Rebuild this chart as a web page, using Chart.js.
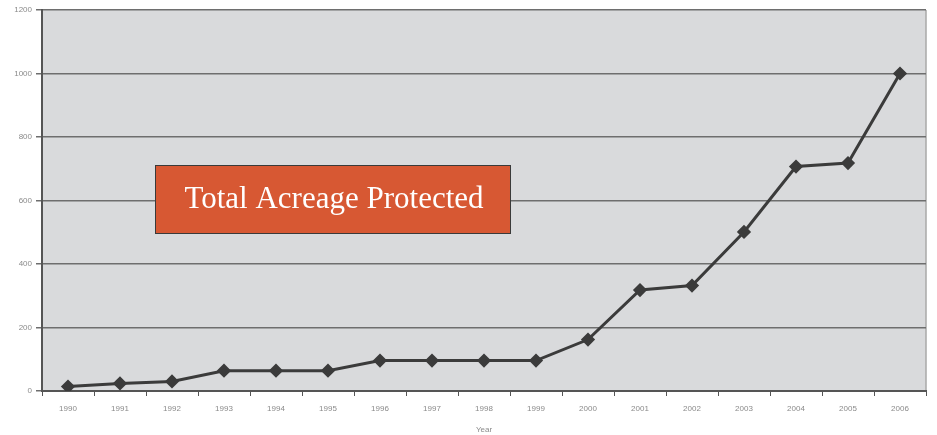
<!DOCTYPE html>
<html>
<head>
<meta charset="utf-8">
<script src="https://cdn.jsdelivr.net/npm/chart.js@4.4.1/dist/chart.umd.min.js"></script>
<style>
  html, body { margin: 0; padding: 0; background: #fff; }
  #wrap { width: 937px; height: 435px; }
</style>
</head>
<body>
<div id="wrap"><canvas id="acreage"></canvas></div>
<script>
const years = ['1990', '1991', '1992', '1993', '1994', '1995', '1996', '1997', '1998',
  '1999', '2000', '2001', '2002', '2003', '2004', '2005', '2006'];
const acreage = [14, 24, 30, 64, 64, 64, 96, 96, 96, 96, 162, 318, 332, 501, 707, 718, 1000];
const yTicks = [0, 200, 400, 600, 800, 1000, 1200];
const chartTitle = 'Total Acreage Protected';

const plotBackground = {
  id: 'plotBackground',
  beforeDraw(chart) {
    const { ctx, chartArea: a } = chart;
    ctx.save();
    ctx.fillStyle = '#d9dadc';
    ctx.fillRect(a.left, a.top, a.right - a.left, a.bottom - a.top);
    ctx.strokeStyle = '#a8a8a8';
    ctx.lineWidth = 1.5;
    ctx.beginPath();
    ctx.moveTo(a.right, a.top);
    ctx.lineTo(a.right, a.bottom);
    ctx.stroke();
    ctx.restore();
  }
};

const titleBox = {
  id: 'titleBox',
  afterDraw(chart) {
    const ctx = chart.ctx;
    ctx.save();
    ctx.fillStyle = '#d75833';
    ctx.fillRect(155, 165, 355, 68);
    ctx.strokeStyle = '#3a3a3a';
    ctx.lineWidth = 1;
    ctx.strokeRect(155.5, 165.5, 355, 68);
    ctx.fillStyle = '#ffffff';
    ctx.font = '31px "Liberation Serif", "DejaVu Serif", serif';
    ctx.textAlign = 'center';
    ctx.textBaseline = 'middle';
    ctx.fillText(chartTitle, 334, 200);
    ctx.restore();
  }
};

new Chart(document.getElementById('acreage'), {
  type: 'line',
  data: {
    labels: years,
    datasets: [
      {
        label: chartTitle,
        data: acreage,
        borderColor: '#3b3b3b',
        borderWidth: 3,
        backgroundColor: '#3b3b3b',
        pointStyle: 'rectRot',
        pointRadius: 5,
        tension: 0,
      },
    ],
  },
  options: {
    responsive: true,
    maintainAspectRatio: false,
    animation: false,
    layout: { padding: { top: 10, right: 11, left: 0, bottom: 0 } },
    plugins: {
      legend: { display: false },
      tooltip: { enabled: false },
    },
    scales: {
      x: {
        offset: true,
        afterFit(scale) { scale.height = 44; },
        grid: {
          offset: true,
          drawOnChartArea: false,
          drawTicks: true,
          tickLength: 5,
          color: '#555',
        },
        border: { color: '#555', width: 2 },
        ticks: {
          color: '#8a8a8a',
          font: { family: 'Liberation Sans', size: 8 },
          padding: 8,
          autoSkip: false,
          maxRotation: 0,
        },
        title: {
          display: true,
          text: 'Year',
          color: '#8a8a8a',
          font: { family: 'Liberation Sans', size: 8 },
          padding: { top: 2, bottom: 0 },
        },
      },
      y: {
        min: 0,
        max: 1200,
        afterFit(scale) { scale.width = 42; },
        afterBuildTicks(scale) { scale.ticks = yTicks.map(v => ({ value: v })); },
        grid: {
          color: '#6e6e6e',
          lineWidth: 1.5,
          tickLength: 6,
        },
        border: { color: '#555', width: 2 },
        ticks: {
          color: '#8a8a8a',
          font: { family: 'Liberation Sans', size: 8 },
          padding: 4,
          callback: v => String(v),
        },
      },
    },
  },
  plugins: [plotBackground, titleBox],
});
</script>
</body>
</html>
